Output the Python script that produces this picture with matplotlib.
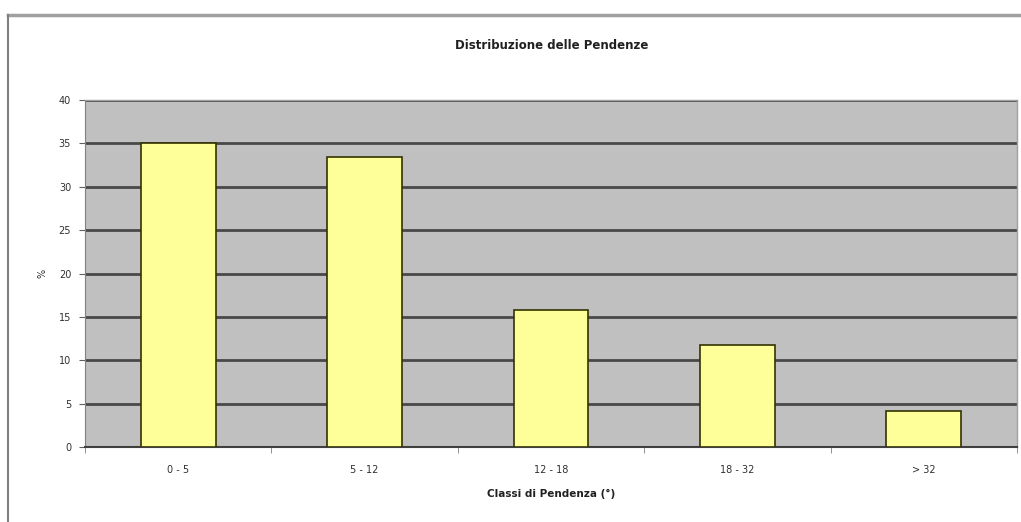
import matplotlib.pyplot as plt
import numpy as np

classi = ["0 - 5", "5 - 12", "12 - 18", "18 - 32", "> 32"]
percentuali = [35.0, 33.4, 15.8, 11.8, 4.1]
y_ticks = [0, 5, 10, 15, 20, 25, 30, 35, 40]

fig = plt.figure(figsize=(10.21, 5.22), dpi=100)

# chart frame, partially cut at the top/left like an embedded spreadsheet chart
fig.add_artist(plt.Line2D([0.008, 1.0], [0.972, 0.972], color="#a0a0a0", linewidth=2.5,
                          transform=fig.transFigure))
fig.add_artist(plt.Line2D([0.008, 0.008], [0.0, 0.972], color="#808080", linewidth=1.5,
                          transform=fig.transFigure))

ax = fig.add_axes([0.0833, 0.1437, 0.9127, 0.6647])
ax.set_facecolor("#c0c0c0")

x = np.arange(len(classi))
ax.bar(x, percentuali, width=0.4, color="#ffff99", edgecolor="#333300",
       linewidth=1.2, zorder=3)

ax.set_xlim(-0.5, len(classi) - 0.5)
ax.set_ylim(0, 40)
ax.set_yticks(y_ticks)
ax.set_yticklabels([str(v) for v in y_ticks], fontsize=7, color="#303030")
ax.set_xticks(x)
ax.set_xticklabels(classi, fontsize=7, color="#303030")
ax.tick_params(axis="x", length=0, pad=13)
ax.tick_params(axis="y", length=4, direction="out", color="#606060", pad=6)

# boundary ticks between the classes
ax.set_xticks(np.arange(len(classi) + 1) - 0.5, minor=True)
ax.tick_params(axis="x", which="minor", length=4, direction="out", color="#808080")

ax.yaxis.grid(True, color="#484848", linewidth=2.0, zorder=1)
ax.set_axisbelow(True)

for side in ["top", "right"]:
    ax.spines[side].set_color("#a0a0a0")
    ax.spines[side].set_linewidth(1.0)
ax.spines["left"].set_color("#808080")
ax.spines["bottom"].set_color("#404040")
ax.spines["bottom"].set_linewidth(1.5)

fig.text(0.54, 0.912, "Distribuzione delle Pendenze", ha="center", va="center",
         fontsize=8.5, fontweight="bold", color="#202020")
ax.set_xlabel("Classi di Pendenza (°)", fontsize=7.5, fontweight="bold",
              color="#202020", labelpad=10)
ax.set_ylabel("%", fontsize=7, color="#303030", rotation=90, labelpad=8)

fig.savefig("out.png", dpi=100)
